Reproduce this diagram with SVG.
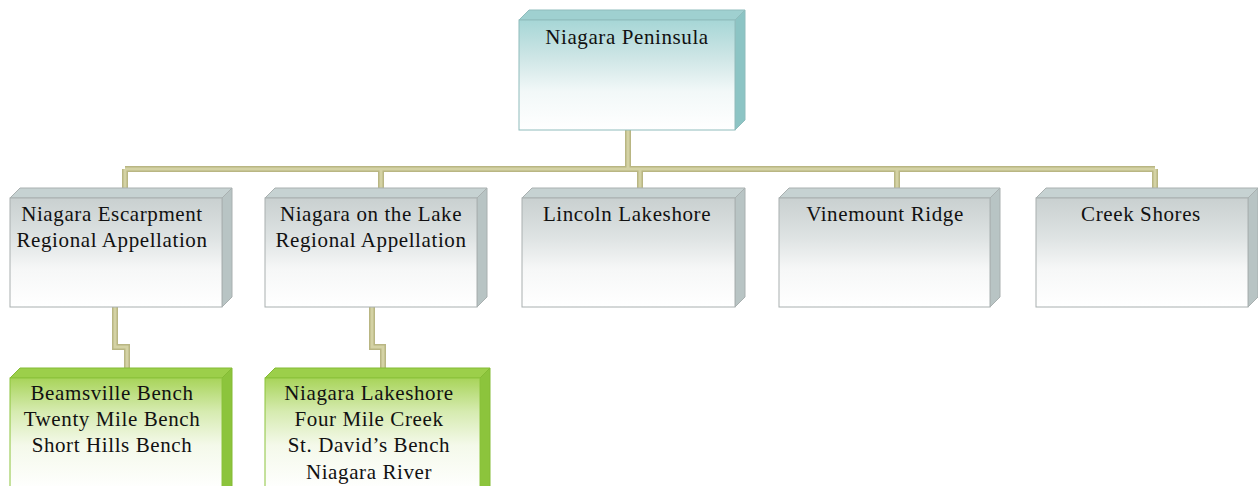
<svg xmlns="http://www.w3.org/2000/svg" width="1258" height="486" viewBox="0 0 1258 486">
<style>
.t{font-family:"Liberation Serif","Times New Roman",serif;font-size:21px;letter-spacing:0.6px;fill:#111;text-anchor:middle}
.edge{stroke:#b9b683;stroke-width:6;fill:none;stroke-linejoin:miter}
.edgein{stroke:#d4d2a4;stroke-width:3;fill:none;stroke-linejoin:miter}
.fg{fill:url(#gGrey);stroke:#a9b0b0;stroke-width:1}
.tg{fill:#c6d2d2;stroke:#a9b0b0;stroke-width:1}
.sg{fill:#b8c4c4;stroke:#a9b0b0;stroke-width:1}
.ft{fill:url(#gTeal);stroke:#8fbcbc;stroke-width:1}
.tt{fill:#9fd0d0;stroke:#8fbcbc;stroke-width:1}
.st{fill:#8cc4c4;stroke:#8fbcbc;stroke-width:1}
.fl{fill:url(#gLime);stroke:#8cc43c;stroke-width:1}
.tl{fill:#9ccf4a;stroke:#84bb34;stroke-width:1}
.sl{fill:#8cc43c;stroke:#84bb34;stroke-width:1}
</style>
<defs>
<linearGradient id="gGrey" x1="0" y1="0" x2="0" y2="1">
<stop offset="0" stop-color="#c9d0d0"/><stop offset="0.35" stop-color="#dde2e2"/><stop offset="0.65" stop-color="#f6f7f7"/><stop offset="1" stop-color="#ffffff"/>
</linearGradient>
<linearGradient id="gTeal" x1="0" y1="0" x2="0" y2="1">
<stop offset="0" stop-color="#a6d6d6"/><stop offset="0.35" stop-color="#cfe6e6"/><stop offset="0.65" stop-color="#f2f8f8"/><stop offset="1" stop-color="#ffffff"/>
</linearGradient>
<linearGradient id="gLime" x1="0" y1="0" x2="0" y2="1">
<stop offset="0" stop-color="#a8d45a"/><stop offset="0.3" stop-color="#d6ebb0"/><stop offset="0.6" stop-color="#f4f9ea"/><stop offset="1" stop-color="#ffffff"/>
</linearGradient>
</defs>

<g id="connectors">
<path class="edge" d="M628,130 V169 M125,169 H1155 M125,169 V188 M381,169 V188 M640,169 V188 M897,169 V188 M1155,169 V188 M115,307 V347 H127 V368 M372,307 V347 H383 V368"/>
<path class="edgein" d="M628,130 V169 M125,169 H1155 M125,169 V188 M381,169 V188 M640,169 V188 M897,169 V188 M1155,169 V188 M115,307 V347 H127 V368 M372,307 V347 H383 V368"/>
</g>

<g id="n-peninsula">
<polygon class="tt" points="519,20 529,10 745,10 735,20"/>
<polygon class="st" points="735,20 745,10 745,120 735,130"/>
<rect class="ft" x="519" y="20" width="216" height="110"/>
<text class="t" x="627" y="44">Niagara Peninsula</text>
</g>

<g id="n-escarpment">
<polygon class="tg" points="10,198 20,188 232,188 222,198"/>
<polygon class="sg" points="222,198 232,188 232,297 222,307"/>
<rect class="fg" x="10" y="198" width="212" height="109"/>
<text class="t" x="112" y="221">Niagara Escarpment</text>
<text class="t" x="112" y="247">Regional Appellation</text>
</g>

<g id="n-notl">
<polygon class="tg" points="265,198 275,188 487,188 477,198"/>
<polygon class="sg" points="477,198 487,188 487,297 477,307"/>
<rect class="fg" x="265" y="198" width="212" height="109"/>
<text class="t" x="371" y="221">Niagara on the Lake</text>
<text class="t" x="371" y="247">Regional Appellation</text>
</g>

<g id="n-lincoln">
<polygon class="tg" points="522,198 532,188 745,188 735,198"/>
<polygon class="sg" points="735,198 745,188 745,297 735,307"/>
<rect class="fg" x="522" y="198" width="213" height="109"/>
<text class="t" x="627" y="221">Lincoln Lakeshore</text>
</g>

<g id="n-vinemount">
<polygon class="tg" points="779,198 789,188 1000,188 990,198"/>
<polygon class="sg" points="990,198 1000,188 1000,297 990,307"/>
<rect class="fg" x="779" y="198" width="211" height="109"/>
<text class="t" x="885" y="221">Vinemount Ridge</text>
</g>

<g id="n-creek">
<polygon class="tg" points="1036,198 1046,188 1258,188 1248,198"/>
<polygon class="sg" points="1248,198 1258,188 1258,297 1248,307"/>
<rect class="fg" x="1036" y="198" width="212" height="109"/>
<text class="t" x="1141" y="221">Creek Shores</text>
</g>

<g id="n-benches">
<polygon class="tl" points="10,378 20,368 232,368 222,378"/>
<polygon class="sl" points="222,378 232,368 232,486 222,490"/>
<rect class="fl" x="10" y="378" width="212" height="112"/>
<text class="t" x="112" y="400">Beamsville Bench</text>
<text class="t" x="112" y="426">Twenty Mile Bench</text>
<text class="t" x="112" y="452">Short Hills Bench</text>
</g>

<g id="n-notl-subs">
<polygon class="tl" points="265,378 275,368 490,368 480,378"/>
<polygon class="sl" points="480,378 490,368 490,486 480,490"/>
<rect class="fl" x="265" y="378" width="215" height="112"/>
<text class="t" x="369" y="400">Niagara Lakeshore</text>
<text class="t" x="369" y="426">Four Mile Creek</text>
<text class="t" x="369" y="452">St. David’s Bench</text>
<text class="t" x="369" y="479">Niagara River</text>
</g>
</svg>
